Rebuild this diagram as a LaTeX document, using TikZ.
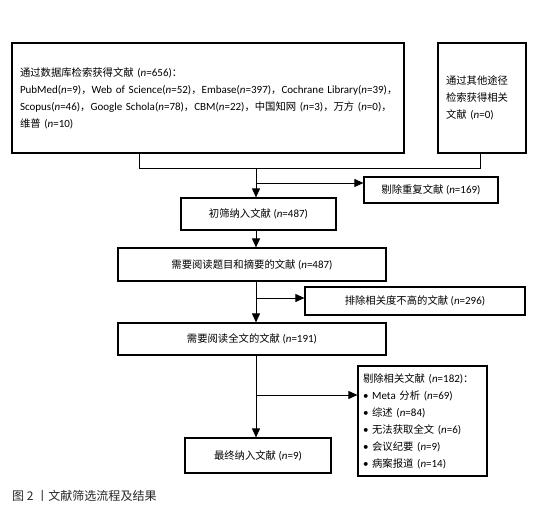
\documentclass[tikz,border=0pt]{standalone}
\usepackage{fontspec}
\setmainfont{Carlito}
\newfontfamily\cjk[Scale=0.94]{Noto Sans CJK SC}
\usetikzlibrary{arrows.meta}
\newcommand\zh[1]{{\cjk #1}}
\newcommand\nn{\textit{n}}
\begin{document}
\begin{tikzpicture}[x=1pt,y=-1pt,
  box/.style={draw=black, line width=1.2pt, inner sep=0pt, align=center, font=\fontsize{11}{17}\selectfont},
  conn/.style={line width=0.9pt},
  arr/.style={conn, -{Triangle[length=9pt,width=8pt]}}]
\useasboundingbox (0,0) rectangle (543,522);
\node[box, minimum width=392pt, minimum height=110pt, text width=376pt, align=left] (db) at (208,98) {%
\mbox{\zh{通过数据库检索获得文献} (\nn=656)\zh{：}}\\
\mbox{PubMed(\nn=9)\zh{，}Web of Science(\nn=52)\zh{，}Embase(\nn=397)\zh{，}Cochrane Library(\nn=39)\zh{，}}\\
\mbox{Scopus(\nn=46)\zh{，}Google Schola(\nn=78)\zh{，}CBM(\nn=22)\zh{，}\zh{中国知网} (\nn=3)\zh{，}\zh{万方} (\nn=0)\zh{，}}\\
\mbox{\zh{维普} (\nn=10)}};
\node[box, minimum width=88pt, minimum height=110pt, text width=72pt, align=left] (other) at (482,98) {%
\zh{通过其他途径}\\ \zh{检索获得相关}\\ \zh{文献} (\nn=0)};
\node[box, minimum width=134pt, minimum height=26pt] (dup) at (431,190) {\zh{剔除重复文献} (\nn=169)};
\node[box, minimum width=155pt, minimum height=32pt] (s1) at (258.5,214) {\zh{初筛纳入文献} (\nn=487)};
\node[box, minimum width=268pt, minimum height=33pt] (s2) at (252,264.5) {\zh{需要阅读题目和摘要的文献} (\nn=487)};
\node[box, minimum width=220pt, minimum height=28pt] (ex2) at (415,301) {\zh{排除相关度不高的文献} (\nn=296)};
\node[box, minimum width=268pt, minimum height=32pt] (s3) at (252,339) {\zh{需要阅读全文的文献} (\nn=191)};
\node[box, minimum width=129pt, minimum height=110pt, text width=119pt, align=left] (ex3) at (422.5,421) {%
\zh{剔除相关文献} (\nn=182)\zh{：}\\
• Meta \zh{分析} (\nn=69)\\
• \zh{综述} (\nn=84)\\
• \zh{无法获取全文} (\nn=6)\\
• \zh{会议纪要} (\nn=9)\\
• \zh{病案报道} (\nn=14)};
\node[box, minimum width=146pt, minimum height=35pt] (fin) at (258,455.5) {\zh{最终纳入文献} (\nn=9)};
\node[anchor=west, inner sep=0pt, text=black!85, font=\fontsize{12.8}{15}\selectfont] (cap) at (12,496) {\zh{图 2 丨文献筛选流程及结果}};
\coordinate (jL) at (139,168);
\coordinate (jR) at (480,168);
\coordinate (jM) at (256,168);
\draw[conn] (db.south -| jL) -- (jL) -- (jR) -- (other.south -| jR);
\draw[arr] (jM) -- (s1.north -| jM);
\coordinate (b1) at (256,183);
\draw[arr] (b1) -- (b1 -| dup.west);
\draw[arr] (s1.south -| jM) -- (s2.north -| jM);
\draw[arr] (s2.south -| jM) -- (s3.north -| jM);
\coordinate (b2) at (256,298);
\draw[arr] (b2) -- (b2 -| ex2.west);
\draw[arr] (s3.south -| jM) -- (fin.north -| jM);
\coordinate (b3) at (256,395);
\draw[arr] (b3) -- (b3 -| ex3.west);
\end{tikzpicture}
\end{document}
